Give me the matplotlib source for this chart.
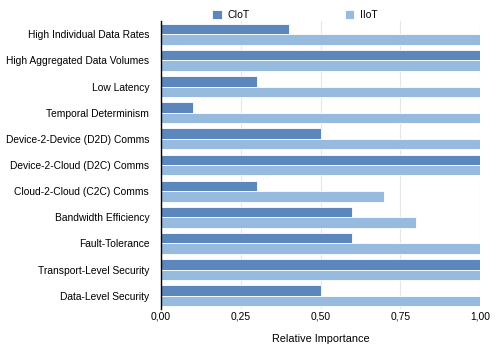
import matplotlib
matplotlib.use("Agg")
import matplotlib.pyplot as plt
import numpy as np

categories = ["High Individual Data Rates", "High Aggregated Data Volumes", "Low Latency",
              "Temporal Determinism", "Device-2-Device (D2D) Comms", "Device-2-Cloud (D2C) Comms",
              "Cloud-2-Cloud (C2C) Comms", "Bandwidth Efficiency", "Fault-Tolerance",
              "Transport-Level Security", "Data-Level Security"]
ciot = [0.4, 1.0, 0.3, 0.1, 0.5, 1.0, 0.3, 0.6, 0.6, 1.0, 0.5]
iiot = [1.0, 1.0, 1.0, 1.0, 1.0, 1.0, 0.7, 0.8, 1.0, 1.0, 1.0]
xticks = [0, 0.25, 0.5, 0.75, 1.0]
xticklabels = ["0,00", "0,25", "0,50", "0,75", "1,00"]

plt.rcParams['font.family'] = ['Liberation Sans', 'DejaVu Sans']
fig = plt.figure(figsize=(5, 3.53), dpi=100)
ax = fig.add_axes([0.322, 0.125, 0.638, 0.815])

y = np.arange(len(categories))
h = 0.4
c1 = "#5b87bd"
c2 = "#96bbdf"
ax.barh(y - h/2, ciot, height=h, color=c1, edgecolor="white", linewidth=0.6, label="CIoT", zorder=3)
ax.barh(y + h/2, iiot, height=h, color=c2, edgecolor="white", linewidth=0.6, label="IIoT", zorder=3)

ax.set_ylim(len(categories) - 0.5, -0.5)
ax.set_xlim(0, 1.0)
ax.set_yticks(y)
ax.set_yticklabels(categories, fontsize=7.4)
ax.set_xticks(xticks)
ax.set_xticklabels(xticklabels, fontsize=7.4)
ax.tick_params(axis='x', length=0, pad=2)
ax.tick_params(axis='y', length=0, pad=8.5)
for s in ["top", "right", "bottom"]:
    ax.spines[s].set_visible(False)
ax.spines["left"].set_color("black")
ax.spines["left"].set_linewidth(1.0)
ax.spines["left"].set_zorder(5)
ax.grid(axis='x', color="#e6e6e6", linewidth=0.8, zorder=0)
ax.set_axisbelow(True)
ax.set_xlabel("Relative Importance", fontsize=7.8, labelpad=9)

leg = fig.legend(loc="center", bbox_to_anchor=(0.59, 0.957), ncol=2, frameon=False,
                 fontsize=7.4, handlelength=0.9, handleheight=0.9, columnspacing=9.2,
                 handletextpad=0.6)
fig.savefig("out.png", dpi=100)
